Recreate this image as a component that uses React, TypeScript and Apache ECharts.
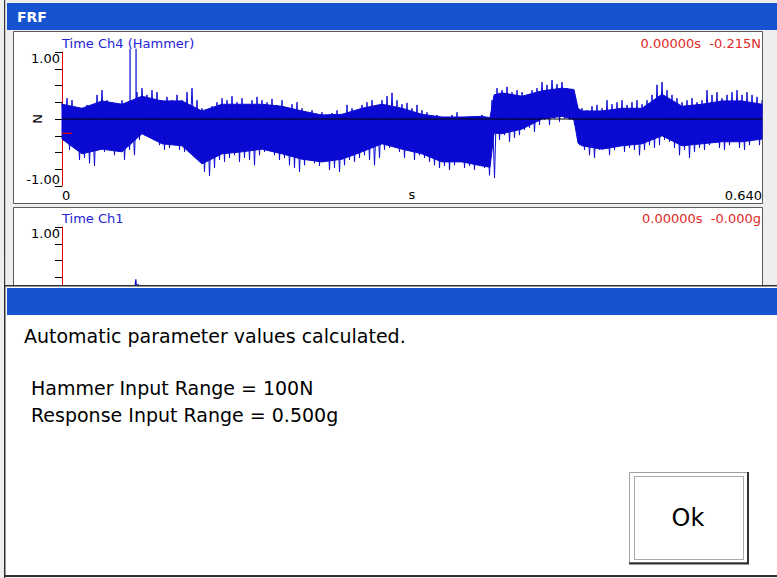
import React, { useEffect, useRef } from "react";
import * as echarts from "echarts";

// ---- Data ----
const T_MAX = 0.64; // seconds, x-axis end
const Y_MIN = -1;
const Y_MAX = 1;
const Y_INTERVAL = 0.25;

// Hammer (Time Ch4): peak excursions (spike tips) per sample, N
const hammerHi = [
  0.24, 0.31, 0.28, 0.16, 0.13, 0.21, 0.10, 0.36, 0.43, 0.28,
  0.21, 0.16, 0.28, 0.13, 0.13, 0.40, 0.46, 0.36, 0.43, 0.40,
  0.28, 0.33, 0.28, 0.36, 0.28, 0.40, 0.46, 0.28, 0.16, 0.13,
  0.19, 0.25, 0.31, 0.28, 0.34, 0.25, 0.31, 0.21, 0.28, 0.33,
  0.28, 0.25, 0.30, 0.21, 0.28, 0.16, 0.22, 0.25, 0.16, 0.10,
  0.13, 0.06, 0.10, 0.01, 0.09, 0.13, 0.06, 0.21, 0.16, 0.10,
  0.21, 0.25, 0.28, 0.21, 0.28, 0.34, 0.39, 0.28, 0.22, 0.24,
  0.16, 0.21, 0.13, 0.10, 0.01, 0.06, -0.01, 0.03, 0.06, 0.10,
  0.01, -0.01, 0.04, 0.01, 0.06, -0.01, 0.28, 0.46, 0.43, 0.48,
  0.40, 0.43, 0.40, 0.36, 0.43, 0.46, 0.55, 0.51, 0.58, 0.52,
  0.55, 0.46, 0.40, 0.21, 0.16, 0.13, 0.19, 0.21, 0.16, 0.28,
  0.22, 0.25, 0.28, 0.21, 0.25, 0.28, 0.22, 0.28, 0.36, 0.51,
  0.55, 0.43, 0.36, 0.31, 0.25, 0.28, 0.31, 0.25, 0.28, 0.43,
  0.36, 0.40, 0.31, 0.36, 0.40, 0.43, 0.36, 0.40, 0.36, 0.33,
  0.28,
];
const hammerLo = [
  -0.31, -0.46, -0.43, -0.61, -0.58, -0.66, -0.70, -0.46, -0.49, -0.43,
  -0.54, -0.46, -0.61, -0.46, -0.54, -0.31, -0.24, -0.28, -0.31, -0.39,
  -0.46, -0.43, -0.39, -0.46, -0.49, -0.39, -0.46, -0.61, -0.79, -0.85,
  -0.73, -0.61, -0.64, -0.58, -0.54, -0.64, -0.58, -0.61, -0.69, -0.54,
  -0.49, -0.46, -0.54, -0.61, -0.58, -0.69, -0.73, -0.79, -0.69, -0.61,
  -0.66, -0.70, -0.64, -0.76, -0.73, -0.79, -0.69, -0.61, -0.64, -0.58,
  -0.54, -0.61, -0.69, -0.58, -0.46, -0.43, -0.39, -0.49, -0.58, -0.46,
  -0.61, -0.54, -0.58, -0.64, -0.69, -0.73, -0.70, -0.76, -0.69, -0.61,
  -0.73, -0.70, -0.76, -0.69, -0.73, -0.84, -0.88, -0.31, -0.24, -0.34,
  -0.28, -0.24, -0.16, -0.13, -0.19, -0.09, -0.01, -0.09, 0.01, -0.04,
  0.01, -0.01, -0.09, -0.39, -0.46, -0.54, -0.58, -0.46, -0.43, -0.54,
  -0.46, -0.39, -0.49, -0.43, -0.46, -0.54, -0.46, -0.39, -0.43, -0.39,
  -0.31, -0.34, -0.43, -0.54, -0.46, -0.58, -0.49, -0.43, -0.46, -0.39,
  -0.34, -0.43, -0.46, -0.39, -0.34, -0.43, -0.46, -0.39, -0.31, -0.39,
  -0.34,
];

// Hammer dense core of the signal (where the trace is solid blue)
const coreTimes = [
  0, 0.0183, 0.0366, 0.0549, 0.0731, 0.0914, 0.1097, 0.128, 0.1463, 0.1646,
  0.1829, 0.2011, 0.2194, 0.2377, 0.256, 0.2743, 0.2926, 0.3109, 0.3291, 0.3474,
  0.3657, 0.384, 0.3913, 0.395, 0.4023, 0.4206, 0.4389, 0.4571, 0.4681, 0.4718,
  0.4754, 0.4937, 0.512, 0.5303, 0.5486, 0.5669, 0.5851, 0.6034, 0.6217, 0.64,
];
const coreHi = [
  0.22, 0.16, 0.27, 0.22, 0.34, 0.27, 0.27, 0.12, 0.22, 0.22,
  0.22, 0.19, 0.12, 0.06, 0.07, 0.16, 0.22, 0.16, 0.07, 0.03,
  0.03, 0.04, 0.02, 0.36, 0.39, 0.34, 0.42, 0.46, 0.44, 0.16,
  0.12, 0.12, 0.16, 0.16, 0.37, 0.19, 0.22, 0.27, 0.27, 0.22,
];
const coreLo = [
  -0.30, -0.52, -0.45, -0.49, -0.22, -0.37, -0.40, -0.67, -0.52, -0.49,
  -0.45, -0.52, -0.60, -0.64, -0.60, -0.49, -0.37, -0.45, -0.52, -0.64,
  -0.64, -0.70, -0.72, -0.21, -0.22, -0.15, 0.00, 0.04, -0.01, -0.36,
  -0.40, -0.45, -0.40, -0.37, -0.25, -0.40, -0.37, -0.34, -0.34, -0.30,
];

// Two hammer impact spikes
const spikeTimes = [0.0622, 0.0677];
const spikePeaks = [1.05, 1.05];

// Response (Time Ch1): nearly flat with a tiny burst
const ch1Times = [0, 0.066, 0.0675, 0.0685, 0.0695, 0.0705, 0.0715, 0.0725, 0.074, 0.64];
const ch1Values = [0, 0, 0.22, 0.02, 0.15, 0.03, 0.1, 0.02, 0, 0];

// Cursor readouts
const cursorTime = 0;
const hammerCursor = -0.215;
const ch1Cursor = -0.0;
const cursorLen = 0.009;

const xMinLabel = "0";
const xMaxLabel = "0.640";
const xName = "s";
const hammerUnit = "N";
const ch1Unit = "g";

const FONT = "DejaVu Sans";
const BLUE_BAR = "#1553D0";
const WAVE = "#0a0ad2";

const step = T_MAX / (hammerHi.length - 1);

function buildZig(hi: number[], lo: number[]) {
  const pts: number[][] = [];
  hi.forEach((h, i) => {
    pts.push([i * step, h]);
    if (i < hi.length - 1) pts.push([i * step + step / 2, lo[i]]);
  });
  return pts;
}

function buildSpikes() {
  const pts: number[][] = [];
  spikeTimes.forEach((t, i) => {
    pts.push([t, 0]);
    pts.push([t, spikePeaks[i]]);
    pts.push([t, 0]);
  });
  return pts;
}

function yAxisFor(gridIndex: number) {
  return {
    type: "value",
    gridIndex,
    min: Y_MIN,
    max: Y_MAX,
    interval: Y_INTERVAL,
    nameMoveOverlap: false,
    axisLine: { show: true, onZero: false, lineStyle: { color: "#e00000", width: 1 } },
    axisTick: { show: true, length: 7, lineStyle: { color: "#000", width: 1 } },
    splitLine: { show: false },
    axisLabel: {
      formatter: (v: number) => (Math.abs(Math.abs(v) - 1) < 1e-9 ? v.toFixed(2) : ""),
      fontFamily: FONT,
      fontSize: 13,
      color: "#000",
      margin: 2,
      hideOverlap: false,
      verticalAlignMinLabel: "bottom",
      verticalAlignMaxLabel: "top",
    },
  };
}

export default function App() {
  const ref = useRef<HTMLDivElement>(null);
  useEffect(() => {
    if (!ref.current) return;
    const chart = echarts.init(ref.current, null, { renderer: "svg" });
    const txt = (x: number, y: number, text: string, fill: string, size: number, extra: any = {}) => ({
      type: "text",
      x,
      y,
      z: extra.z ?? 5,
      style: {
        text,
        fill,
        font: `${extra.weight || "normal"} ${size}px '${FONT}'`,
        textAlign: extra.align || "left",
        textVerticalAlign: "middle",
      },
    });
    const option: any = {
      animation: false,
      backgroundColor: "#eeeeee",
      grid: [
        { left: 62, top: 52, width: 700, height: 134, containLabel: false, outerBoundsMode: "none" },
        { left: 62, top: 227, width: 700, height: 134, containLabel: false, outerBoundsMode: "none" },
      ],
      xAxis: [
        {
          type: "value",
          gridIndex: 0,
          min: 0,
          max: T_MAX,
          interval: T_MAX,
          nameMoveOverlap: false,
          axisLine: { show: false },
          axisTick: { show: false },
          splitLine: { show: false },
          axisLabel: {
            formatter: (v: number) => (v === 0 ? xMinLabel : xMaxLabel),
            alignMinLabel: "left",
            alignMaxLabel: "right",
            margin: 3,
            fontFamily: FONT,
            fontSize: 13,
            color: "#000",
          },
          name: xName,
          nameLocation: "middle",
          nameGap: 2,
          nameTextStyle: { fontFamily: FONT, fontSize: 13, color: "#000", verticalAlign: "top" },
        },
        {
          type: "value",
          gridIndex: 1,
          min: 0,
          max: T_MAX,
          interval: T_MAX,
          axisLine: { show: false },
          axisTick: { show: false },
          splitLine: { show: false },
          axisLabel: { show: false },
        },
      ],
      yAxis: [
        {
          ...yAxisFor(0),
          name: hammerUnit,
          nameLocation: "middle",
          nameRotate: 90,
          nameGap: 18,
          nameTextStyle: { fontFamily: FONT, fontSize: 13, color: "#000" },
        },
        yAxisFor(1),
      ],
      series: [
        {
          // solid core of the hammer trace
          type: "custom",
          xAxisIndex: 0,
          yAxisIndex: 0,
          data: [[0, 0]],
          encode: { x: 0, y: 1 },
          z: 2,
          renderItem: (_params: any, api: any) => {
            const upper = coreHi.map((h, i) => api.coord([coreTimes[i], h]));
            const lower = coreLo.map((l, i) => api.coord([coreTimes[i], l])).reverse();
            return {
              type: "polygon",
              shape: { points: upper.concat(lower) },
              style: { fill: WAVE, stroke: WAVE, lineWidth: 1 },
            };
          },
        },
        {
          // spiky excursions of the hammer trace
          type: "line",
          xAxisIndex: 0,
          yAxisIndex: 0,
          data: buildZig(hammerHi, hammerLo),
          symbol: "none",
          lineStyle: { color: WAVE, width: 1 },
          clip: true,
          z: 2,
        },
        {
          type: "line",
          xAxisIndex: 0,
          yAxisIndex: 0,
          data: buildSpikes(),
          symbol: "none",
          lineStyle: { color: WAVE, width: 1.2 },
          clip: false,
          z: 2,
        },
        {
          type: "line",
          xAxisIndex: 0,
          yAxisIndex: 0,
          data: [
            [0, 0],
            [T_MAX, 0],
          ],
          symbol: "none",
          lineStyle: { color: "#000", width: 1 },
          z: 3,
        },
        {
          type: "line",
          xAxisIndex: 0,
          yAxisIndex: 0,
          data: [
            [cursorTime, hammerCursor],
            [cursorTime + cursorLen, hammerCursor],
          ],
          symbol: "none",
          lineStyle: { color: "#e00000", width: 1.2 },
          z: 4,
        },
        {
          type: "line",
          xAxisIndex: 1,
          yAxisIndex: 1,
          data: ch1Times.map((t, i) => [t, ch1Values[i]]),
          symbol: "none",
          lineStyle: { color: WAVE, width: 1.2 },
          z: 2,
        },
        {
          type: "line",
          xAxisIndex: 1,
          yAxisIndex: 1,
          data: [
            [cursorTime, ch1Cursor],
            [cursorTime + cursorLen, ch1Cursor],
          ],
          symbol: "none",
          lineStyle: { color: "#e00000", width: 1.2 },
          z: 4,
        },
      ],
      graphic: {
        elements: [
          // window chrome
          { type: "rect", z: -10, shape: { x: 4, y: 0, width: 1.2, height: 578 }, style: { fill: "#3a3a3a" } },
          { type: "rect", z: -10, shape: { x: 7, y: 3, width: 770, height: 27 }, style: { fill: BLUE_BAR } },
          txt(17, 16.5, "FRF", "#ffffff", 14, { weight: "bold", z: -9 }),
          {
            type: "rect",
            z: -10,
            shape: { x: 13.5, y: 31.5, width: 749, height: 172 },
            style: { fill: "#ffffff", stroke: "#5a5a5a", lineWidth: 1 },
          },
          {
            type: "rect",
            z: -10,
            shape: { x: 13.5, y: 207.5, width: 749, height: 120 },
            style: { fill: "#ffffff", stroke: "#5a5a5a", lineWidth: 1 },
          },
          txt(62, 43, "Time Ch4 (Hammer)", "#2424d6", 13),
          txt(761, 43, `${cursorTime.toFixed(5)}s  ${hammerCursor.toFixed(3)}${hammerUnit}`, "#e02828", 13, { align: "right" }),
          txt(62, 218, "Time Ch1", "#2424d6", 13),
          txt(761, 218, `${cursorTime.toFixed(5)}s  -${Math.abs(ch1Cursor).toFixed(3)}${ch1Unit}`, "#e02828", 13, { align: "right" }),
          // dialog
          { type: "rect", z: 100, shape: { x: 4, y: 285, width: 773, height: 292 }, style: { fill: "#303030" } },
          { type: "rect", z: 101, shape: { x: 5.5, y: 286.5, width: 772, height: 288.5 }, style: { fill: "#ffffff" } },
          { type: "rect", z: 102, shape: { x: 7, y: 288, width: 770, height: 27 }, style: { fill: BLUE_BAR } },
          txt(24, 336, "Automatic parameter values calculated.", "#000", 19, { z: 103 }),
          txt(31, 388, "Hammer Input Range = 100N", "#000", 19, { z: 103 }),
          txt(31, 415, "Response Input Range = 0.500g", "#000", 19, { z: 103 }),
          {
            type: "rect",
            z: 103,
            shape: { x: 629.5, y: 472.5, width: 118, height: 90 },
            style: { fill: "#ffffff", stroke: "#a0a0a0", lineWidth: 1 },
          },
          {
            type: "polyline",
            z: 104,
            shape: { points: [[748, 472], [748, 563.5], [629, 563.5]] },
            style: { stroke: "#303030", lineWidth: 2, fill: null },
          },
          {
            type: "rect",
            z: 104,
            shape: { x: 634.5, y: 476.5, width: 109, height: 83 },
            style: { fill: null, stroke: "#555555", lineWidth: 1, lineDash: [1, 1] },
          },
          { ...txt(688, 518, "Ok", "#000", 24, { z: 105, align: "center" }) },
        ],
      },
    };
    chart.setOption(option);
    return () => chart.dispose();
  }, []);
  return (
    <div
      ref={ref}
      style={{ position: "fixed", left: 0, top: 0, width: 777, height: 578 }}
    />
  );
}
